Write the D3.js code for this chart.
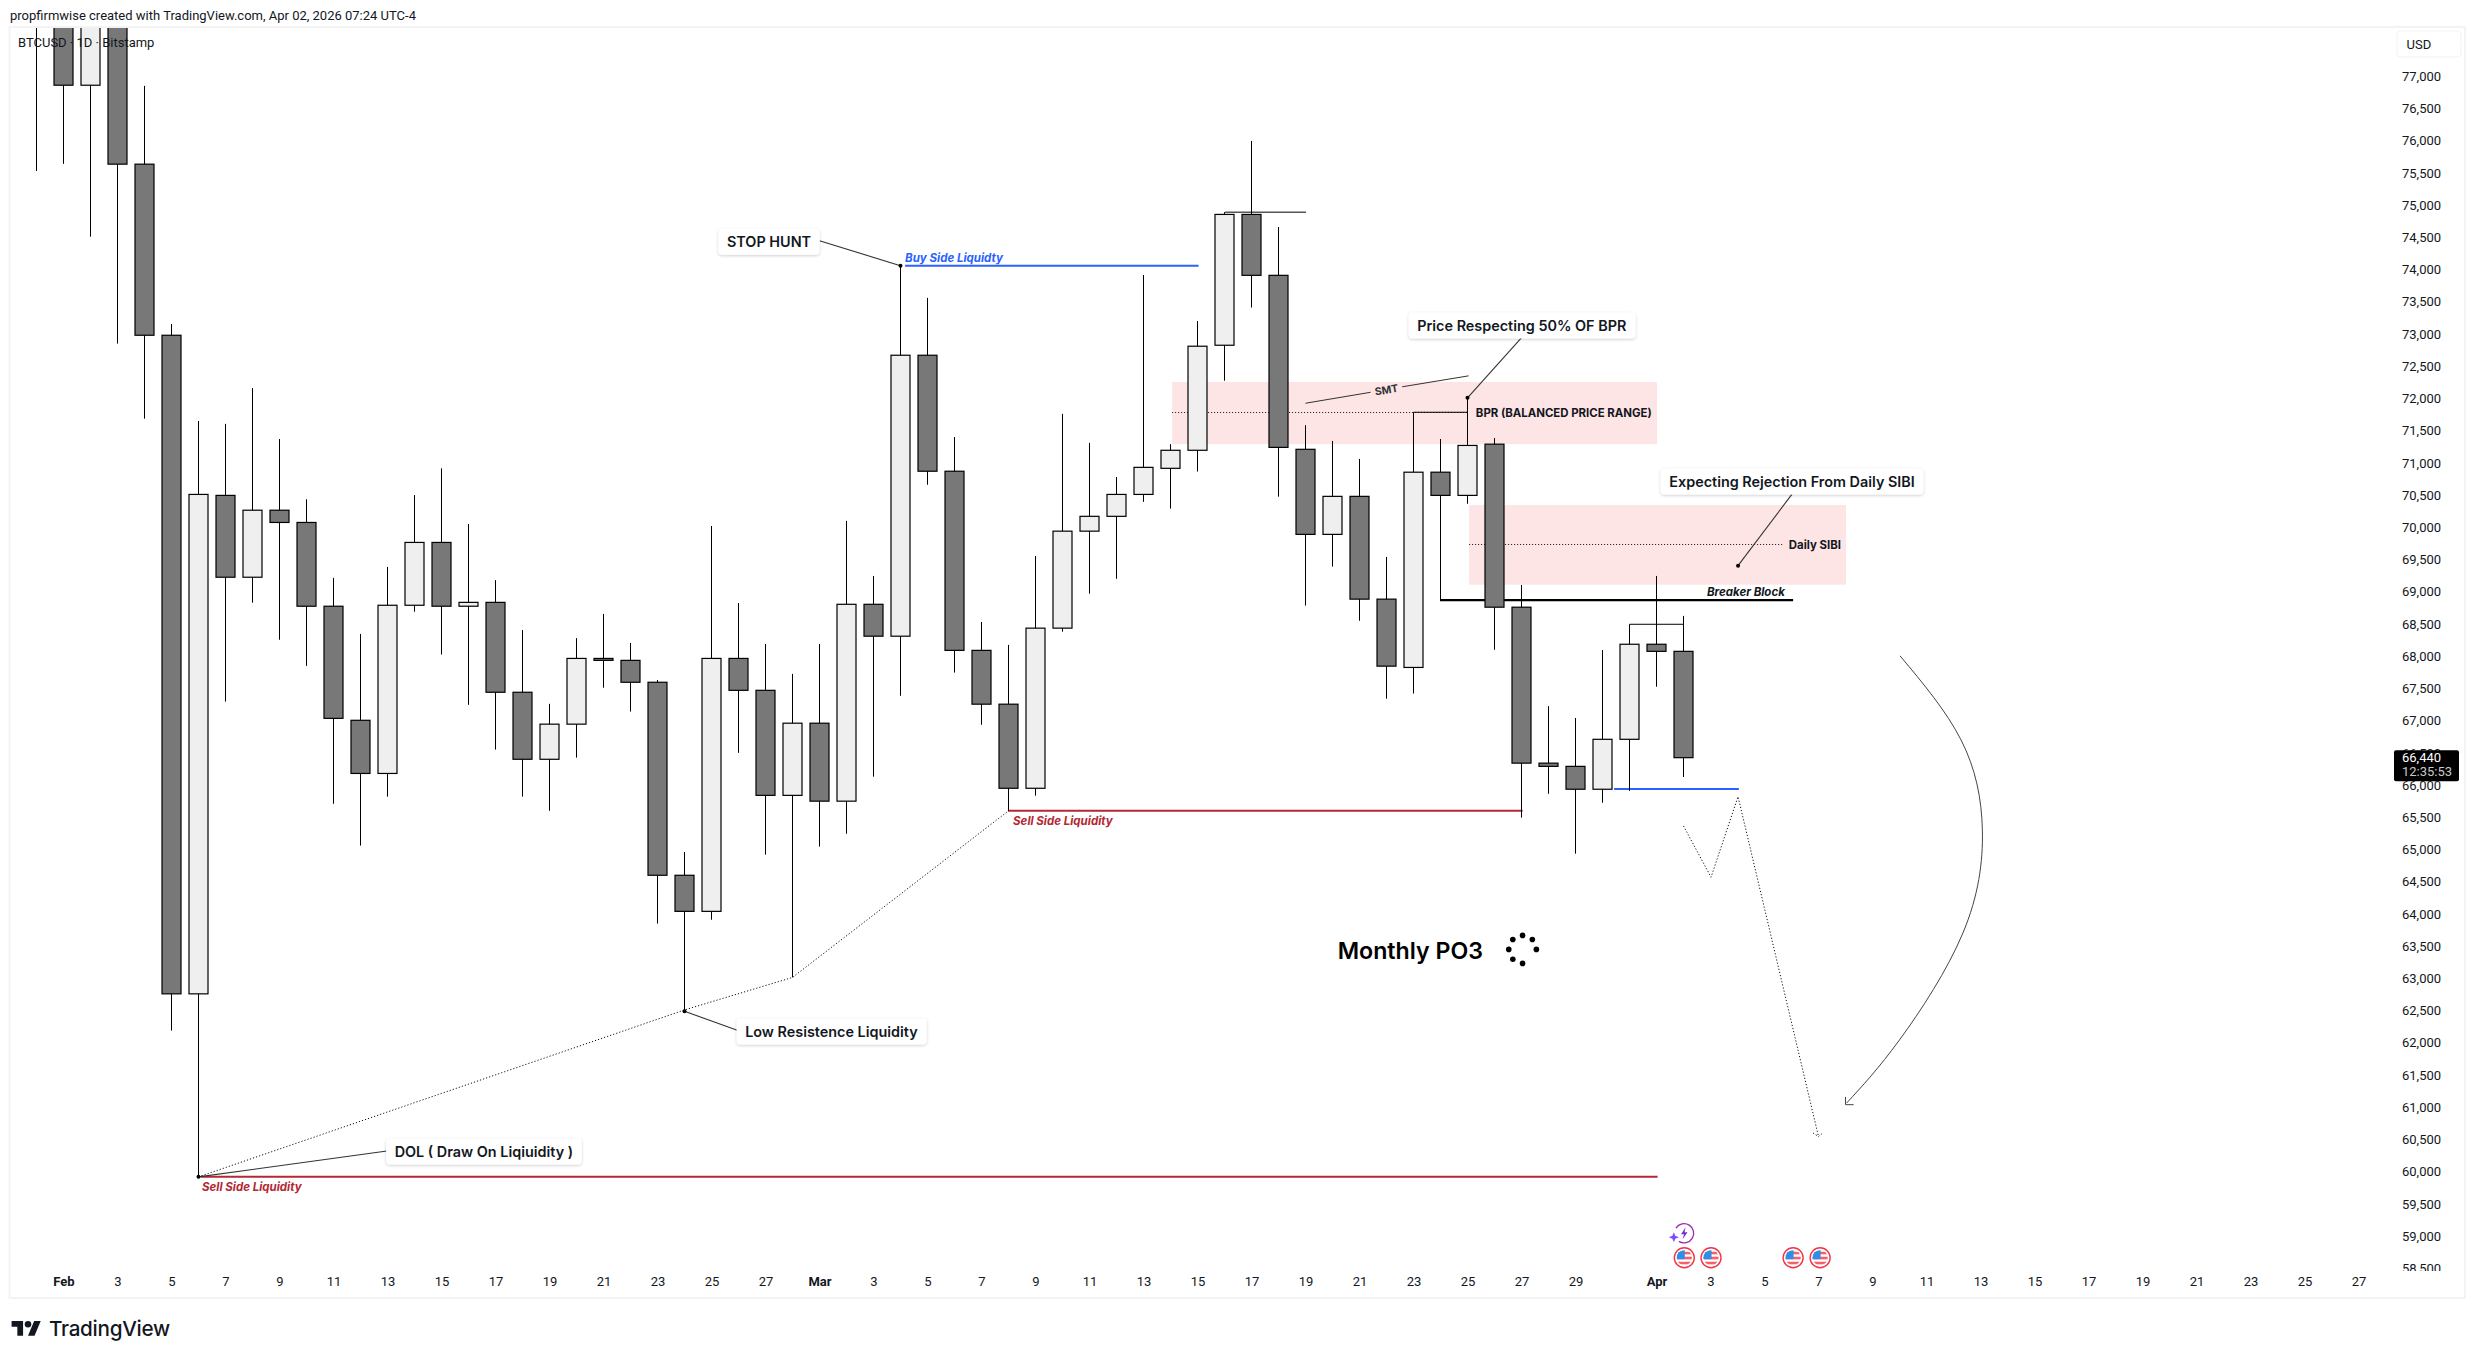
<!DOCTYPE html>
<html><head><meta charset="utf-8">
<script src="https://cdn.jsdelivr.net/npm/d3@7"></script>
<style>html,body{margin:0;padding:0;background:#fff}svg{display:block}</style>
</head><body><svg id="c" width="2475" height="1359"></svg>
<script>
// ---- data ----
const barLabels=["Jan 31","Feb 1","Feb 2","Feb 3","Feb 4","Feb 5","Feb 6","Feb 7","Feb 8","Feb 9","Feb 10","Feb 11","Feb 12","Feb 13","Feb 14","Feb 15","Feb 16","Feb 17","Feb 18","Feb 19","Feb 20","Feb 21","Feb 22","Feb 23","Feb 24","Feb 25","Feb 26","Feb 27","Feb 28","Mar 1","Mar 2","Mar 3","Mar 4","Mar 5","Mar 6","Mar 7","Mar 8","Mar 9","Mar 10","Mar 11","Mar 12","Mar 13","Mar 14","Mar 15","Mar 16","Mar 17","Mar 18","Mar 19","Mar 20","Mar 21","Mar 22","Mar 23","Mar 24","Mar 25","Mar 26","Mar 27","Mar 28","Mar 29","Mar 30","Mar 31","Apr 1","Apr 2"];
const opens=[78700,78650,76860,78700,75635,72980,62760,70495,69225,70265,70075,68775,67005,66180,68790,69765,68775,68835,67440,66400,66945,67965,67935,67595,64600,64040,67965,67470,65840,66960,65750,68805,68310,72670,70870,68090,67255,65950,68435,69940,70170,70510,70915,71195,72825,74855,73910,71210,69890,70480,68885,67825,70855,70495,71290,68760,66340,66290,65935,66710,68185,68075];
const highs=[79000,79300,79200,79400,76850,73155,71650,71605,72160,71370,70435,69215,68345,69385,70500,70915,70050,69180,68405,67260,68280,68655,68205,67630,64960,70020,68825,68190,67725,68190,70100,69245,74060,73560,71400,68530,68175,69555,71760,71310,70780,73915,71290,73200,74890,75995,74660,71585,71340,71060,69540,71785,71370,72010,71385,69105,67225,67040,68095,68495,69245,68625];
const lows=[75530,75640,74510,72850,71685,62190,59920,67295,68830,68255,67850,65710,65060,65820,68690,68025,67245,66550,65820,65600,66425,67510,67140,63850,62510,63910,66500,64920,63015,65045,65245,66130,67385,70660,67745,66935,65600,65835,68380,68970,69200,70395,70290,70865,72275,73410,70475,68785,69390,68550,67340,67420,68885,70365,68100,65495,65865,64935,65725,65910,67525,66125];
const closes=[78650,76860,78700,75635,72980,62760,70510,69225,70265,70075,68775,67035,66180,68790,69765,68775,68835,67440,66400,66945,67965,67935,67595,64600,64040,67965,67470,65840,66960,65750,68805,68310,72670,70870,68090,67255,65950,68435,69940,70170,70510,70930,71195,72810,74855,73910,71240,69890,70480,68885,67845,70855,70495,71270,68760,66340,66290,65935,66710,68185,68075,66425];
const priceTicks=[58500,59000,59500,60000,60500,61000,61500,62000,62500,63000,63500,64000,64500,65000,65500,66000,66500,67000,67500,68000,68500,69000,69500,70000,70500,71000,71500,72000,72500,73000,73500,74000,74500,75000,75500,76000,76500,77000];
const dayTicks=[0,2,4,6,8,10,12,14,16,18,20,22,24,26,28,30,32,34,36,38,40,42,44,46,48,50,52,54,56,59,61,63,65,67,69,71,73,75,77,79,81,83,85];
const dayTickLabels=["Feb","3","5","7","9","11","13","15","17","19","21","23","25","27","Mar","3","5","7","9","11","13","15","17","19","21","23","25","27","29","Apr","3","5","7","9","11","13","15","17","19","21","23","25","27"];
const boldTicks=["Feb","Mar","Apr"];

// annotations: [day since Feb 1, price]
const zones=[{from:41.06,to:59.02,top:72255,bottom:71290,mid:71785,midEnd:52.06,label:"BPR (BALANCED PRICE RANGE)",labelDay:52.31,labelPrice:71770},
             {from:52.06,to:66.02,top:70345,bottom:69110,mid:69740,midEnd:63.72,label:"Daily SIBI",labelDay:63.9,labelPrice:69725}];
const hLines=[{a:31.17,b:42.04,p:74060,k:"blue"},{a:57.43,b:62.05,p:65940,k:"blue"},{a:5.09,b:59.04,p:59920,k:"red"},{a:34.98,b:54.04,p:65600,k:"red"},{a:50.98,b:64.06,p:68870,k:"breaker"},{a:43.02,b:46.02,p:74890,k:"thin"},{a:50,b:52,p:71785,k:"thin"},{a:58,b:60,p:68495,k:"thin"}];
const lineLabels=[{d:31.17,p:74175,t:"Buy Side Liquidty",k:"blue"},{d:5.13,p:59760,t:"Sell Side Liquidity",k:"red"},{d:35.17,p:65435,t:"Sell Side Liquidity",k:"red"},{d:60.87,p:68995,t:"Breaker Block",k:"breaker"}];
const callouts=[{t:"STOP HUNT",d:26.13,p:74440,dot:[31,74060],end:[28,74445]},
                {t:"Price Respecting 50% OF BPR",d:54.01,p:73140,dot:[52,72010],end:[54.02,72950]},
                {t:"Expecting Rejection From Daily SIBI",d:64.02,p:70720,dot:[62.02,69405],end:[64.02,70515]},
                {t:"DOL ( Draw On Liqiuidity )",d:15.57,p:60320,dot:[5,59920],end:[11.98,60320]},
                {t:"Low Resistence Liquidity",d:28.44,p:62185,dot:[23,62490],end:[24.98,62190]}];
const trendPath=[[5,59920],[23,62510],[27,63015],[35,65600]];
const zigzag=[[60,65365],[61.02,64570],[62.02,65820],[65,60545]];
const zigzagHead=[[64.8,60600],[65,60545],[65.15,60600]];
const arcPath=[[68.02,68005],[70.28,66700],[71.07,65300],[70.35,63705],[68,62045],[66.04,61065]];
const arcHead=[[66,61160],[66,61040],[66.3,61040]];
const smtLeft=[[46,71925],[48.41,72095]], smtRight=[[49.58,72180],[52.04,72350]], smtText={d:49,p:72130};
const po3={d:47.19,p:63425,ringD:54.04,ringP:63450,ringAngles:[0,-45,-90,-135,180,135,90]};
const flagDays=[60.03,61.02,64.06,65.06], flagPrice=58665, boltDay=60.02, boltPrice=59045;
const lastPrice="66,440", countdown="12:35:53", lastValue=66425;

// ---- scales ----
const x=d3.scaleLinear().domain([0,85]).range([63.5,63.5+85*27]);
const y=d3.scaleLinear().domain([60000,77000]).range([1171.7,76.2]);
const svg=d3.select("#c");
const SANS="Inter,'Noto Sans',sans-serif", AXF="Roboto,'Liberation Sans',sans-serif";
const defs=svg.append("defs");
defs.append("clipPath").attr("id","pane").append("rect").attr("x",10).attr("y",27).attr("width",2386).attr("height",1244);
defs.append("clipPath").attr("id","axisclip").append("rect").attr("x",2396).attr("y",27).attr("width",68).attr("height",1244);
defs.append("clipPath").attr("id","flagclip").append("circle").attr("r",7.6);
const shadow=defs.append("filter").attr("id","sh").attr("x","-10%").attr("y","-30%").attr("width","120%").attr("height","170%");
shadow.append("feDropShadow").attr("dx",0).attr("dy",1).attr("stdDeviation",1.6).attr("flood-color","#000").attr("flood-opacity",.2);

svg.append("rect").attr("width",2475).attr("height",1359).attr("fill","#fff");
const pane=svg.append("g").attr("clip-path","url(#pane)");

// zones
const zg=pane.append("g");
zg.selectAll("rect").data(zones).join("rect")
 .attr("x",d=>x(d.from)).attr("width",d=>x(d.to)-x(d.from))
 .attr("y",d=>y(d.top)).attr("height",d=>y(d.bottom)-y(d.top)).attr("fill","#fde4e5");
zg.selectAll("line").data(zones).join("line")
 .attr("x1",d=>x(d.from)).attr("x2",d=>x(d.midEnd)).attr("y1",d=>Math.round(y(d.mid))+.5).attr("y2",d=>Math.round(y(d.mid))+.5)
 .attr("stroke","#111").attr("stroke-width",1).attr("stroke-dasharray","1 2");

// horizontal lines
const hs={blue:["#2962ff",2],red:["#b22833",2],breaker:["#000",2.4],thin:["#000",1]};
pane.append("g").selectAll("line").data(hLines).join("line")
 .attr("x1",d=>x(d.a)).attr("x2",d=>x(d.b)).attr("y1",d=>y(d.p)).attr("y2",d=>y(d.p))
 .attr("stroke",d=>hs[d.k][0]).attr("stroke-width",d=>hs[d.k][1]);

// dotted paths
const ln=d3.line().x(d=>x(d[0])).y(d=>y(d[1]));
const dotted=(g,p)=>g.append("path").attr("d",ln(p)).attr("fill","none").attr("stroke","#111").attr("stroke-width",1).attr("stroke-dasharray","1.2 2");
dotted(pane,trendPath);dotted(pane,zigzag);dotted(pane,zigzagHead);

// arc arrow
pane.append("path").attr("d",d3.line().x(d=>x(d[0])).y(d=>y(d[1])).curve(d3.curveNatural)(arcPath)).attr("fill","none").attr("stroke","#444").attr("stroke-width",1);
pane.append("path").attr("d",ln(arcHead)).attr("fill","none").attr("stroke","#444").attr("stroke-width",1);

// candles
const bars=barLabels.map((l,i)=>({l,day:i-1,o:opens[i],h:highs[i],lo:lows[i],c:closes[i]}));
const cg=pane.append("g");
cg.selectAll("line").data(bars).join("line").attr("x1",d=>x(d.day)).attr("x2",d=>x(d.day))
 .attr("y1",d=>y(d.h)).attr("y2",d=>y(d.lo)).attr("stroke","#000").attr("stroke-width",1);
cg.selectAll("rect").data(bars).join("rect").attr("x",d=>x(d.day)-9.5).attr("width",19)
 .attr("y",d=>y(Math.max(d.o,d.c))).attr("height",d=>Math.max(1,Math.abs(y(d.o)-y(d.c))))
 .attr("fill",d=>d.c>=d.o?"#efefef":"#787878").attr("stroke","#000").attr("stroke-width",1.2);

// SMT
[smtLeft,smtRight].forEach(p=>pane.append("path").attr("d",ln(p)).attr("stroke","#333").attr("stroke-width",1).attr("fill","none"));
const ang=Math.atan2(y(smtRight[1][1])-y(smtLeft[0][1]),x(smtRight[1][0])-x(smtLeft[0][0]))*180/Math.PI;
pane.append("text").text("SMT").attr("transform",`translate(${x(smtText.d)},${y(smtText.p)}) rotate(${ang})`)
 .attr("text-anchor","middle").attr("dy",".35em").attr("font-family",SANS).attr("font-size",10.5).attr("font-weight",700).attr("fill","#333");

// zone labels
pane.append("g").selectAll("text").data(zones).join("text").text(d=>d.label)
 .attr("x",d=>x(d.labelDay)).attr("y",d=>y(d.labelPrice)).attr("dy",".35em")
 .attr("font-family",SANS).attr("font-size",11.4).attr("font-weight",700).attr("fill","#131722");

// line labels
const lc={blue:"#2962ff",red:"#b22833",breaker:"#131722"};
pane.append("g").selectAll("text").data(lineLabels).join("text").text(d=>d.t)
 .attr("x",d=>x(d.d)).attr("y",d=>y(d.p)).attr("dy",".35em")
 .attr("font-family",SANS).attr("font-size",11.5).attr("font-style","italic").attr("font-weight",700).attr("fill",d=>lc[d.k]);

// callouts
const cb=pane.append("g");
callouts.forEach(c=>{
  cb.append("line").attr("x1",x(c.dot[0])).attr("y1",y(c.dot[1])).attr("x2",x(c.end[0])).attr("y2",y(c.end[1])).attr("stroke","#333").attr("stroke-width",1.1);
  cb.append("circle").attr("cx",x(c.dot[0])).attr("cy",y(c.dot[1])).attr("r",2).attr("fill","#000");
  const g=cb.append("g").attr("transform",`translate(${x(c.d)},${y(c.p)+.5})`);
  const r=g.append("rect").attr("fill","#fff").attr("rx",4).attr("filter","url(#sh)");
  const t=g.append("text").text(c.t).attr("text-anchor","middle").attr("dy",".38em").attr("font-family",SANS).attr("font-size",14.4).attr("font-weight",600).attr("fill","#131722");
  const b=t.node().getBBox();
  r.attr("x",b.x-8.5).attr("width",b.width+17).attr("y",-13).attr("height",26);
});

// Monthly PO3
pane.append("text").text("Monthly PO3").attr("x",x(po3.d)).attr("y",y(po3.p)).attr("dy",".35em")
 .attr("font-family",SANS).attr("font-size",23.2).attr("font-weight",600).attr("fill","#000");
pane.append("g").attr("transform",`translate(${x(po3.ringD)},${y(po3.ringP)})`).selectAll("circle").data(po3.ringAngles).join("circle")
 .attr("cx",a=>13.8*Math.cos(a*Math.PI/180)).attr("cy",a=>14*Math.sin(a*Math.PI/180)).attr("r",2.8).attr("fill","#000");

// event pins
const pins=pane.append("g");
flagDays.forEach(d=>{
  const g=pins.append("g").attr("transform",`translate(${x(d)},${y(flagPrice)})`);
  g.append("circle").attr("r",10).attr("fill","#fff").attr("stroke","#f23645").attr("stroke-width",1.4);
  const f=g.append("g").attr("clip-path","url(#flagclip)");
  f.append("rect").attr("x",-8).attr("y",-8).attr("width",16).attr("height",16).attr("fill","#fff");
  [-6,-1,4].forEach(s=>f.append("rect").attr("x",-8).attr("y",s).attr("width",16).attr("height",2.6).attr("fill","#f4606c"));
  f.append("rect").attr("x",-8).attr("y",-8).attr("width",8.5).attr("height",9.5).attr("fill","#2f8fe8");
});
const bolt=pins.append("g").attr("transform",`translate(${x(boltDay)},${y(boltPrice)})`);
bolt.append("path").attr("d",d3.arc()({innerRadius:9,outerRadius:10.3,startAngle:-1.0,endAngle:3.7})).attr("fill","#9c27b0");
bolt.append("path").attr("d","M1.5 -6 L-3 1 L0 1 L-1.5 6 L3.5 -1 L0.5 -1 Z").attr("fill","#7b2cd0");
bolt.append("path").attr("d","M-10.2 -1 L-8.8 2.6 L-5.2 4 L-8.8 5.4 L-10.2 9 L-11.6 5.4 L-15.2 4 L-11.6 2.6 Z").attr("fill","#7c4dff");

// axes
const yAxis=svg.append("g").attr("clip-path","url(#axisclip)").append("g").attr("transform","translate(2402,0)")
 .call(d3.axisRight(y).tickValues(priceTicks).tickSize(0).tickPadding(0).tickFormat(d3.format(",")));
yAxis.select(".domain").remove();
yAxis.selectAll("text").attr("font-family",AXF).attr("font-size",13).attr("fill","#131722").attr("text-anchor","start");
const xAxis=svg.append("g").attr("transform","translate(0,1277)")
 .call(d3.axisBottom(x).tickValues(dayTicks).tickSize(0).tickPadding(0).tickFormat((d,i)=>dayTickLabels[i]));
xAxis.select(".domain").remove();
xAxis.selectAll("text").attr("font-family",AXF).attr("font-size",13).attr("fill","#131722")
 .attr("font-weight",function(){return boldTicks.includes(this.textContent)?700:400;});

// last price tag
const ty=y(lastValue);
const tag=svg.append("g");
tag.append("rect").attr("x",2394).attr("y",ty-7.5).attr("width",65).attr("height",31).attr("rx",2).attr("fill","#000");
tag.append("text").text(lastPrice).attr("x",2402).attr("y",ty).attr("dy",".35em").attr("font-family",AXF).attr("font-size",13).attr("fill","#fff");
tag.append("text").text(countdown).attr("x",2402).attr("y",ty+14).attr("dy",".35em").attr("font-family",AXF).attr("font-size",13).attr("fill","#c8c8c8");

// USD box
svg.append("rect").attr("x",2397).attr("y",31).attr("width",64).attr("height",26).attr("rx",4).attr("fill","#fff").attr("stroke","#f0f3fa");
svg.append("text").text("USD").attr("x",2406.5).attr("y",44).attr("dy",".35em").attr("font-family",AXF).attr("font-size",13).attr("fill","#131722");

// frame
svg.append("rect").attr("x",9.5).attr("y",27).attr("width",2455.5).attr("height",1271).attr("fill","none").attr("stroke","#f3f3f3").attr("stroke-width",2);

// header, legend
svg.append("text").text("propfirmwise created with TradingView.com, Apr 02, 2026 07:24 UTC-4").attr("x",10).attr("y",15.7).attr("dy",".35em").attr("font-family",AXF).attr("font-size",13).attr("fill","#131722");
svg.append("text").text("BTCUSD · 1D · Bitstamp").attr("x",18).attr("y",42.7).attr("dy",".35em").attr("font-family",AXF).attr("font-size",13).attr("fill","#131722");

// logo
const logo=svg.append("g").attr("transform","translate(11.6,1317.7) scale(.82)");
logo.append("path").attr("d","M14 22H7V11H0V4h14v18zM28 22h-8l7.5-18h8L28 22z").attr("fill","#131722");
logo.append("circle").attr("cx",20).attr("cy",8).attr("r",4).attr("fill","#131722");
svg.append("text").text("TradingView").attr("x",49).attr("y",1329).attr("dy",".35em").attr("font-family",SANS).attr("font-size",20.7).attr("font-weight",500).attr("letter-spacing","-0.3").attr("fill","#131722");
</script></body></html>
